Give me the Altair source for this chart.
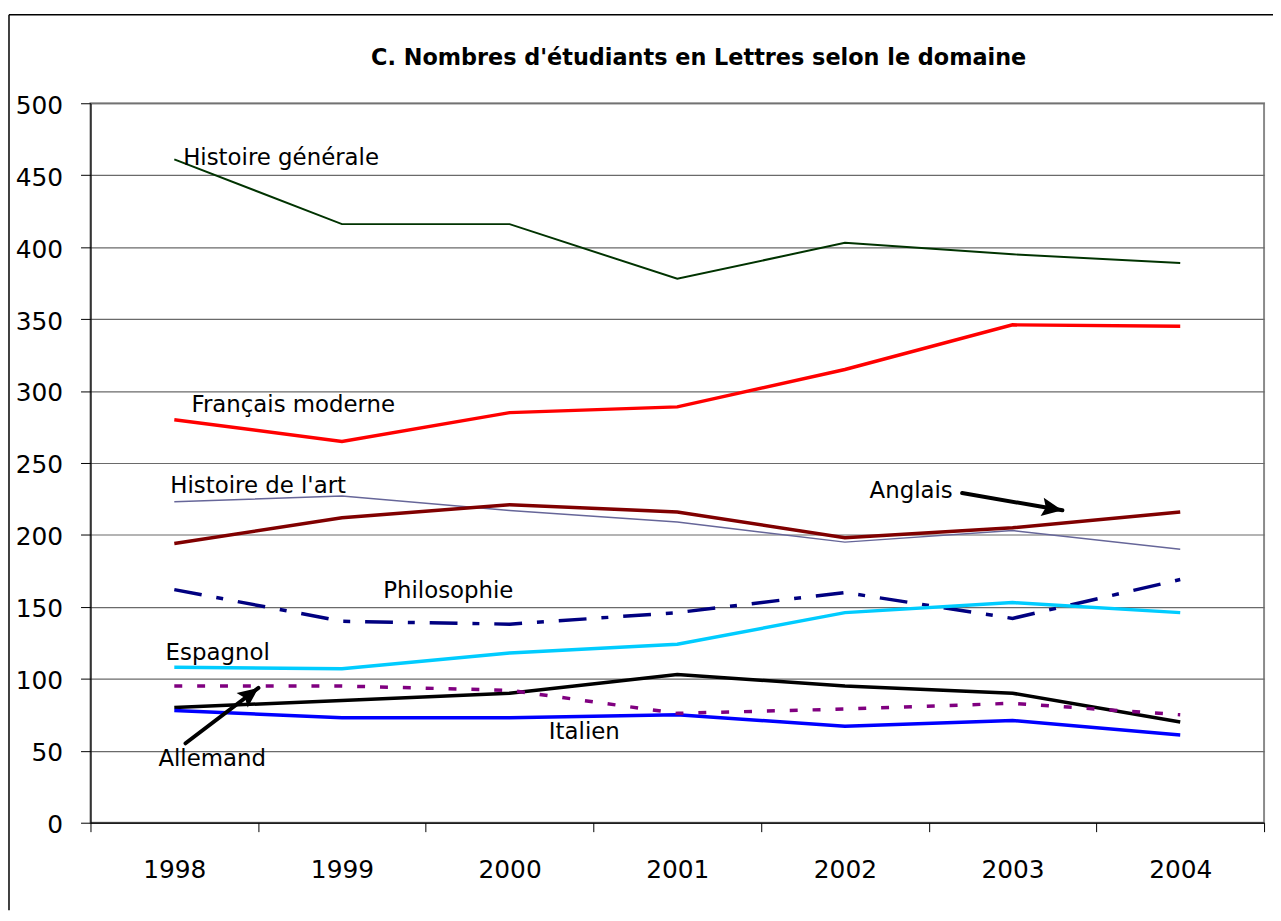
import altair as alt
import pandas as pd

# ---------------- data ----------------
years = [1998, 1999, 2000, 2001, 2002, 2003, 2004]

series_names = [
    "Histoire générale",
    "Français moderne",
    "Histoire de l'art",
    "Anglais",
    "Philosophie",
    "Espagnol",
    "Allemand",
    "Italien",
    "Série pointillée",
]
histoire_generale = [461, 416, 416, 378, 403, 395, 389]
francais_moderne = [280, 265, 285, 289, 315, 346, 345]
histoire_art = [223, 227, 217, 209, 195, 203, 190]
anglais = [194, 212, 221, 216, 198, 205, 216]
philosophie = [162, 140, 138, 146, 160, 142, 169]
espagnol = [108, 107, 118, 124, 146, 153, 146]
allemand = [80, 85, 90, 103, 95, 90, 70]
italien = [78, 73, 73, 75, 67, 71, 61]
serie_pointillee = [95, 95, 92, 76, 79, 83, 75]

series_values = [histoire_generale, francais_moderne, histoire_art, anglais,
                 philosophie, espagnol, allemand, italien, serie_pointillee]

# styles per series
series_colors = ["#003300", "#FF0000", "#666699", "#800000", "#000080",
                 "#00CCFF", "#000000", "#0000FF", "#800080"]
series_widths = [2, 3.5, 1.5, 3.5, 3.5, 3.5, 3.5, 3.5, 3.5]
series_dashes = [None, None, None, None, [28, 15, 7, 15], None, None, None, [8, 15]]

# annotation labels (data coordinates)
label_text = ["Histoire générale", "Français moderne", "Histoire de l'art", "Anglais",
              "Philosophie", "Espagnol", "Allemand", "Italien"]
label_x = [1998.053, 1998.102, 1997.976, 2002.147, 1999.246, 1997.948, 1997.905, 2000.234]
label_y = [457.2, 285.4, 229.1, 225.6, 155.9, 113.3, 39.2, 58.0]

# annotation arrows (data coordinates)
arrow_x = [1998.067, 2002.699]
arrow_y = [55.2, 229.1]
arrow_x2 = [1998.502, 2003.297]
arrow_y2 = [93.7, 217.1]
arrow_angle = [52.8, 99.8]

title_text = "C. Nombres d'étudiants en Lettres selon le domaine"

# ---------------- build ----------------
rows = []
for name, vals in zip(series_names, series_values):
    for yr, v in zip(years, vals):
        rows.append({"serie": name, "annee": yr, "valeur": v})
df = pd.DataFrame(rows)

labels_df = pd.DataFrame({"texte": label_text, "x": label_x, "y": label_y})
arrows_df = pd.DataFrame({"x": arrow_x, "y": arrow_y, "x2": arrow_x2, "y2": arrow_y2,
                          "angle": arrow_angle})
one = pd.DataFrame({"k": [0]})

FONT = "DejaVu Sans"
W, H = 1181, 724
PAD_L, PAD_T, PAD_R, PAD_B = 83, 93, 9, 88

x_scale = alt.Scale(domain=[1997.5, 2004.5], nice=False, zero=False)
y_scale = alt.Scale(domain=[0, 500], nice=False, zero=True)

tick_vals = [1997.5 + 0.5 * i for i in range(15)]
x_axis = alt.Axis(
    values=tick_vals, title=None, grid=False,
    tickSize=9, tickColor="black", tickWidth=1,
    domainColor="black", domainWidth=1.2,
    labelExpr="datum.value % 1 == 0 ? format(datum.value, 'd') : ''",
    tickOpacity={"condition": {"test": "datum.value % 1 == 0", "value": 0}, "value": 1},
    labelFont=FONT, labelFontSize=25, labelColor="black", labelPadding=26,
    labelOverlap=False, labelFlush=False, labelBaseline="top",
)
y_axis = alt.Axis(
    values=list(range(0, 501, 50)), title=None,
    grid=True, gridColor="#6a6a6a", gridWidth=1.2,
    tickSize=10, tickColor="black", tickWidth=1,
    domainColor="black", domainWidth=1.2,
    labelFont=FONT, labelFontSize=25, labelColor="black", labelPadding=18,
    labelOffset=2, labelFlush=False, labelOverlap=False,
)

X = alt.X("annee:Q", scale=x_scale, axis=x_axis)
Y = alt.Y("valeur:Q", scale=y_scale, axis=y_axis)

layers = []
for name, col, w, dash in zip(series_names, series_colors, series_widths, series_dashes):
    kw = dict(color=col, strokeWidth=w, strokeCap="butt", strokeJoin="miter")
    if dash is not None:
        kw["strokeDash"] = dash
    layers.append(
        alt.Chart(df).transform_filter(alt.datum.serie == name)
        .mark_line(**kw).encode(x=X, y=Y)
    )

ax = alt.X("x:Q", scale=x_scale, axis=x_axis)
ay = alt.Y("y:Q", scale=y_scale, axis=y_axis)

text_layer = alt.Chart(labels_df).mark_text(
    align="left", baseline="alphabetic", font=FONT, fontSize=23, color="black"
).encode(x=ax, y=ay, text="texte:N")

arrow_lines = alt.Chart(arrows_df).mark_rule(
    color="black", strokeWidth=4, strokeCap="round"
).encode(x=ax, y=ay, x2="x2:Q", y2="y2:Q")

arrow_heads = alt.Chart(arrows_df).mark_point(
    shape="M0,0 L-0.45,1 L0,0.82 L0.45,1 Z", filled=True, size=1700,
    color="black", opacity=1, strokeWidth=0
).encode(
    x=alt.X("x2:Q", scale=x_scale, axis=x_axis),
    y=alt.Y("y2:Q", scale=y_scale, axis=y_axis),
    angle=alt.Angle("angle:Q", scale=None),
)

title_layer = alt.Chart(one).mark_text(
    text=title_text, font=FONT, fontSize=22.5, fontWeight="bold",
    align="center", baseline="alphabetic", color="black"
).encode(x=alt.value(612), y=alt.value(-39))

frame_left = alt.Chart(one).mark_rule(color="black", strokeWidth=1.5).encode(
    x=alt.value(-82), y=alt.value(-89), y2=alt.value(H + PAD_B)
)
frame_top = alt.Chart(one).mark_rule(color="black", strokeWidth=1.5).encode(
    x=alt.value(-82), x2=alt.value(W + PAD_R), y=alt.value(-89)
)

chart = alt.layer(
    *layers, text_layer, arrow_lines, arrow_heads, title_layer, frame_left, frame_top
).properties(
    width=W, height=H,
    autosize=alt.AutoSizeParams(type="none"),
    padding={"left": PAD_L, "top": PAD_T, "right": PAD_R, "bottom": PAD_B},
    background="white",
).configure_view(
    stroke="#8a8a8a", strokeWidth=2
)

chart.save("out.html", embed_options={"renderer": "svg", "actions": False})
